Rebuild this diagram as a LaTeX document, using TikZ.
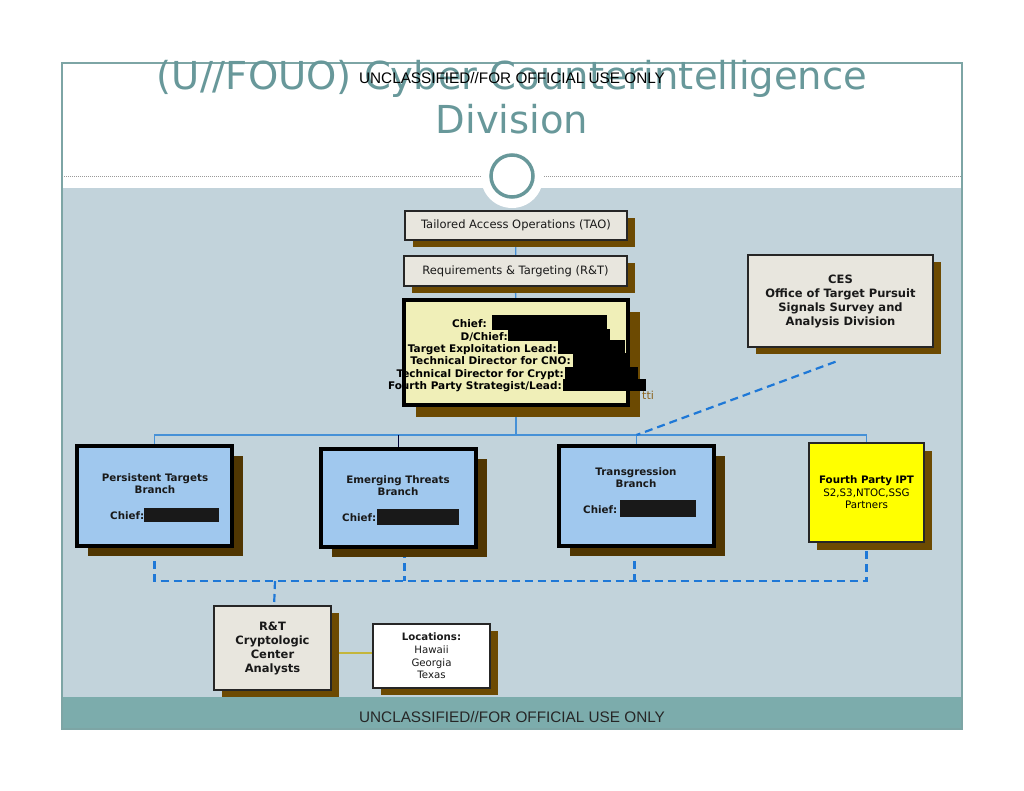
\documentclass[tikz,border=0pt]{standalone}
\usepackage{fontspec}
\setmainfont{DejaVu Sans}
\newfontfamily\arialfont{Liberation Sans}
\usepackage{xcolor}
\usepackage{tikz}
\usetikzlibrary{positioning, shadows, calc}
\definecolor{panel_blue}{RGB}{194, 211, 219}
\definecolor{footer_teal}{RGB}{124, 172, 172}
\definecolor{frame_teal}{RGB}{125, 165, 165}
\definecolor{title_teal}{RGB}{104, 152, 154}
\definecolor{box_grey}{RGB}{232, 230, 222}
\definecolor{branch_blue}{RGB}{160, 200, 238}
\definecolor{chief_yellow}{RGB}{240, 239, 184}
\definecolor{ipt_yellow}{RGB}{255, 255, 0}
\definecolor{shadow_brown}{RGB}{108, 74, 2}
\definecolor{shadow_dark}{RGB}{80, 54, 2}
\definecolor{link_blue}{RGB}{70, 145, 215}
\definecolor{dash_blue}{RGB}{30, 120, 215}
\definecolor{loc_olive}{RGB}{196, 182, 60}
\definecolor{note_brown}{RGB}{140, 100, 30}
\tikzstyle{plainbox} = [rectangle, draw=black!85, line width=1.5pt, fill=box_grey, inner sep=0pt, align=center, text=black!90, drop shadow={shadow xshift=8pt, shadow yshift=-7pt, fill=shadow_brown, opacity=1}]
\tikzstyle{branchbox} = [rectangle, draw=black, line width=4pt, fill=branch_blue, minimum width=155pt, drop shadow={shadow xshift=11pt, shadow yshift=-10pt, fill=shadow_dark, opacity=1}]
\tikzstyle{branchtext} = [align=center, inner sep=0pt, text=black!90, font=\fontsize{10.3}{12.2}\selectfont\bfseries]
\tikzstyle{chieftext} = [anchor=base east, inner sep=0pt, font=\fontsize{10.5}{12}\selectfont\bfseries]
\tikzstyle{link} = [link_blue, line width=1.3pt]
\tikzstyle{dashlink} = [dash_blue, line width=2.2pt, dash pattern=on 8pt off 5pt]
\pgfdeclarelayer{panel}
\pgfdeclarelayer{background}
\pgfsetlayers{panel,background,main}

\begin{document}
\begin{tikzpicture}[x=1pt, y=-1pt]
\useasboundingbox (0,0) rectangle (1024,791);

% Slide background
\begin{pgfonlayer}{panel}
\fill[white] (0,0) rectangle (1024,791);
\fill[panel_blue] (62,188) rectangle (962,697);
\fill[footer_teal] (62,697) rectangle (962,729);
\draw[black!40, line width=0.8pt, dash pattern=on 1pt off 1pt] (62,176) -- (962,176);
\draw[frame_teal, line width=1.2pt] (62,63) rectangle (962,729);
\end{pgfonlayer}

% Title
\node[anchor=base, inner sep=0pt, text=title_teal, font=\fontsize{38.5}{44}\selectfont] (title) at (512,90) {(U//FOUO) Cyber Counterintelligence};
\node[anchor=base, inner sep=0pt, text=title_teal, font=\fontsize{38.5}{44}\selectfont] (title2) at (512,134) {Division};
\node[inner sep=0pt, font=\arialfont\fontsize{15.3}{18}\selectfont] (banner) at (512,78) {UNCLASSIFIED//FOR OFFICIAL USE ONLY};
\fill[white] (512,177) circle (31pt);
\draw[title_teal, line width=3.5pt] (512,176) circle (21pt);

% Chain of command
\node[plainbox, minimum width=222pt, minimum height=29pt, font=\fontsize{11.5}{14}\selectfont] (tao) at (516,225.5) {Tailored Access Operations (TAO)};
\node[plainbox, minimum width=223pt, minimum height=30pt, font=\fontsize{11.5}{14}\selectfont] (rt) at (515.5,271) {Requirements \& Targeting (R\&T)};
\node[rectangle, draw=black, line width=4pt, fill=chief_yellow, minimum width=224pt, minimum height=105pt, drop shadow={shadow xshift=12pt, shadow yshift=-12pt, fill=shadow_brown, opacity=1}] (chief) at (516,352.5) {};

\node[chieftext] (lchief) at (487,327) {Chief:};
\node[chieftext] (ldchief) at (508,340) {D/Chief:};
\node[chieftext] (ltarget) at (557,352) {Target Exploitation Lead:};
\node[chieftext] (lcno) at (571,364) {Technical Director for CNO:};
\node[chieftext] (lcrypt) at (564,377) {Technical Director for Crypt:};
\node[chieftext] (lfourth) at (562,389) {Fourth Party Strategist/Lead:};
\fill[black] (492,315) rectangle (607,330);
\fill[black] (508,329) rectangle (610,341);
\fill[black] (558,340) rectangle (625,354);
\fill[black] (573,353) rectangle (630,367);
\fill[black] (565,367) rectangle (638,379);
\fill[black] (563,379) rectangle (646,391);
\node[anchor=west, inner sep=0pt, text=note_brown, font=\fontsize{11}{13}\selectfont] (tti) at (642,395) {tti};

% Side office
\node[plainbox, minimum width=185pt, minimum height=92pt, font=\fontsize{11.5}{14}\selectfont\bfseries] (ces) at (840.5,301) {CES\\Office of Target Pursuit\\Signals Survey and\\Analysis Division};

% Branches
\node[branchbox, minimum height=100pt] (ptb) at (154.5,496) {};
\node[branchbox, minimum height=98pt] (etb) at (398.5,498) {};
\node[branchbox, minimum height=100pt] (tgb) at (636.5,496) {};
\node[rectangle, draw=black!85, line width=1.5pt, fill=ipt_yellow, minimum width=115pt, minimum height=99pt, align=center, font=\fontsize{10.3}{12.5}\selectfont, drop shadow={shadow xshift=8pt, shadow yshift=-8pt, fill=shadow_brown, opacity=1}] (fpi) at (866.5,492.5) {\textbf{Fourth Party IPT}\\S2,S3,NTOC,SSG\\Partners};

\node[branchtext] (ptbname) at (155,484) {Persistent Targets\\Branch};
\node[branchtext] (etbname) at (398,486) {Emerging Threats\\Branch};
\node[branchtext] (tgbname) at (636,478) {Transgression\\Branch};
\node[branchtext, anchor=base west] (ptbchief) at (110,519) {Chief:\rule[-3pt]{75pt}{14pt}};
\node[branchtext, anchor=base west] (etbchief) at (342,521) {Chief:\hspace{1pt}\rule[-4pt]{82pt}{16pt}};
\node[branchtext, anchor=base west] (tgbchief) at (583,513) {Chief:\hspace{3pt}\rule[-4pt]{76pt}{17pt}};

% Analysts
\node[plainbox, minimum width=117pt, minimum height=84pt, font=\fontsize{11.5}{14}\selectfont\bfseries] (rtc) at (272.5,648) {R\&T\\Cryptologic\\Center\\Analysts};
\node[plainbox, fill=white, minimum width=117pt, minimum height=64pt, font=\fontsize{10.2}{12.6}\selectfont] (loc) at (431.5,656) {\textbf{Locations:}\\Hawaii\\Georgia\\Texas};

% Footer
\node[inner sep=0pt, text=black!85, font=\arialfont\fontsize{15.3}{18}\selectfont] (footer) at (512,717) {UNCLASSIFIED//FOR OFFICIAL USE ONLY};

% Lines
\coordinate (bus) at (516,435);
\coordinate (dbus) at (275,581);
\begin{pgfonlayer}{background}
\draw[link] (tao) -- (rt);
\draw[link] (rt) -- (chief);
\draw[link] (chief) -- (bus);
\draw[link] (ptb) |- (bus) -| (fpi);
\draw[link] (tgb) -- (tgb |- bus);
\draw[line width=1.3pt, black!80!blue] (etb) -- (etb |- bus);
\draw[dashlink] ([xshift=-5pt, yshift=-14pt]ces.south) -- (tgb.north |- bus);
\draw[dashlink] (ptb) |- (dbus) -| (fpi);
\draw[dashlink] ([xshift=6pt]etb.center) -- ([xshift=6pt]etb.center |- dbus);
\draw[dashlink] ([xshift=-2pt]tgb.center) -- ([xshift=-2pt]tgb.center |- dbus);
\draw[dashlink] (dbus) -- (rtc);
\draw[loc_olive, line width=1.4pt] ([yshift=-5pt]rtc.center) -- ([yshift=-5pt]rtc.center -| loc.center);
\end{pgfonlayer}

\end{tikzpicture}
\end{document}
